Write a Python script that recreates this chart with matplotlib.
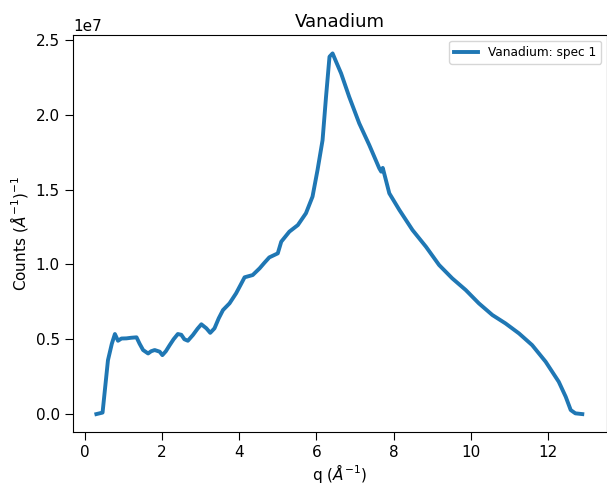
import matplotlib
matplotlib.use('Agg')
import matplotlib.pyplot as plt

# values (q in 1/A, counts in units of 1e7)
q = [0.30, 0.46, 0.60, 0.70, 0.78, 0.86, 0.95, 1.08, 1.20, 1.34, 1.42, 1.51,
     1.64, 1.72, 1.81, 1.94, 2.01, 2.10, 2.20, 2.30, 2.41, 2.50, 2.58, 2.67,
     2.80, 2.92, 3.02, 3.15, 3.25, 3.36, 3.47, 3.58, 3.75, 3.92, 4.05, 4.14,
     4.35, 4.53, 4.65, 4.78, 5.00, 5.09, 5.30, 5.52, 5.73, 5.90, 6.03, 6.16,
     6.25, 6.34, 6.42, 6.51, 6.64, 6.85, 7.11, 7.37, 7.63, 7.68, 7.72, 7.89,
     8.15, 8.49, 8.84, 9.18, 9.52, 9.87, 10.21, 10.56, 10.90,
     11.25, 11.59, 11.94, 12.28, 12.46, 12.59, 12.71, 12.89]
counts = [0.0, 0.01, 0.36, 0.47, 0.535, 0.49, 0.505, 0.506, 0.51, 0.513, 0.47, 0.428,
          0.405, 0.42, 0.428, 0.417, 0.394, 0.42, 0.461, 0.50, 0.535, 0.53, 0.50, 0.49,
          0.528, 0.57, 0.60, 0.573, 0.543, 0.573, 0.64, 0.695, 0.74, 0.807, 0.87, 0.914,
          0.929, 0.974, 1.01, 1.047, 1.074, 1.152, 1.219, 1.263, 1.342, 1.453, 1.631, 1.83,
          2.12, 2.388, 2.41, 2.355, 2.277, 2.12, 1.943, 1.798, 1.642, 1.62, 1.645, 1.475,
          1.364, 1.23, 1.118, 0.996, 0.907, 0.829, 0.74, 0.662, 0.606,
          0.539, 0.461, 0.35, 0.216, 0.116, 0.027, 0.005, 0.0]

plt.rcParams['font.size'] = 11
plt.rcParams['xtick.major.size'] = 6
plt.rcParams['ytick.major.size'] = 6

fig = plt.figure(figsize=(6.07, 4.86), dpi=100)
ax = fig.add_axes([0.120, 0.111, 0.880, 0.817])

ax.plot(q, [c * 1e7 for c in counts], color='#1f77b4', linewidth=2.8,
        label='Vanadium: spec 1')

ax.set_xlim(-0.31, 13.53)
ax.set_ylim(-0.12e7, 2.533e7)
ax.set_xticks([0, 2, 4, 6, 8, 10, 12])
ax.set_yticks([0, 0.5e7, 1.0e7, 1.5e7, 2.0e7, 2.5e7])

ax.set_title('Vanadium', fontsize=13)
ax.set_xlabel(r'q ($\AA^{-1}$)', labelpad=1)
ax.set_ylabel(r'Counts ($\AA^{-1}$)$^{-1}$')
ax.legend(loc='upper right', fontsize=8.7)

fig.savefig('out.png', dpi=100)
